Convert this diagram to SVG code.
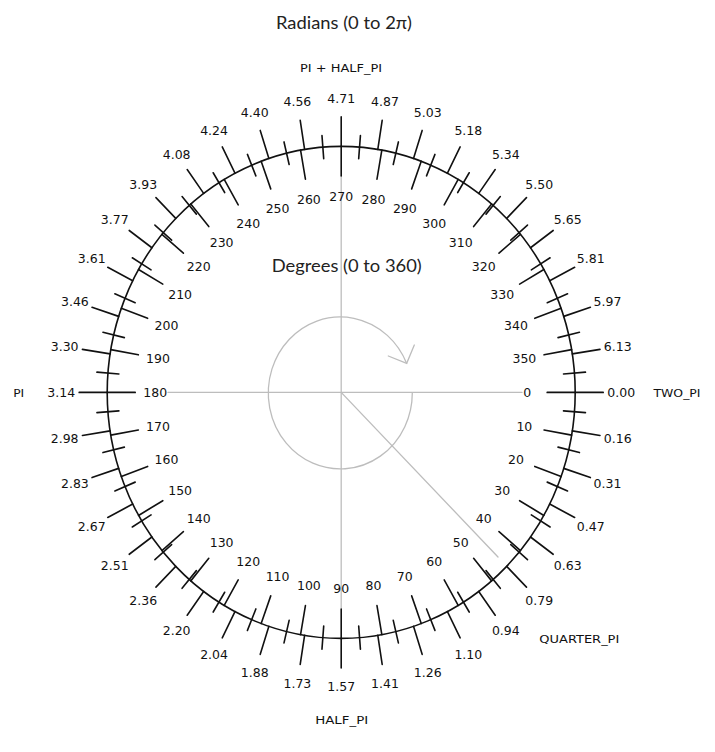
<svg xmlns="http://www.w3.org/2000/svg" xmlns:xlink="http://www.w3.org/1999/xlink" width="715" height="752" viewBox="0 0 715 752">
<style>
.t{font-family:"DejaVu Sans","Liberation Sans",sans-serif;font-size:12.5px;fill:#111;text-anchor:middle;dominant-baseline:central}
.c{font-family:"DejaVu Sans","Liberation Sans",sans-serif;font-size:11px;fill:#111;text-anchor:middle}
.h{font-family:Lato,"Open Sans",sans-serif;fill:#222;text-anchor:middle}
.k{stroke:#111;stroke-width:1.6;fill:none;stroke-linecap:round;vector-effect:non-scaling-stroke}
.g{stroke:#bdbdbd;stroke-width:1.3;fill:none;stroke-linecap:round}
</style>
<defs>
<line id="ro" x1="234" y1="0" x2="262" y2="0"/>
<line id="ri" x1="206" y1="0" x2="234" y2="0"/>
<line id="sh" x1="223" y1="0" x2="245" y2="0"/>
</defs>
<rect width="715" height="752" fill="#fff"/>

<g id="guides" class="g">
<line x1="168" y1="392.4" x2="522" y2="392.4"/>
<line x1="341.2" y1="176" x2="341.2" y2="608"/>
<line x1="341.2" y1="392.4" x2="498" y2="557"/>
<path d="M 412.3 393 A 72 76 0 1 1 406.6 363.3"/>
<polyline points="388.3,356 406.7,363.3 414.3,345"/>
</g>

<g id="dial" transform="translate(341.2 392.4) scale(1 1.0513)">
<circle id="rim" class="k" r="234"/>
<g id="radian-ticks" class="k">
<use xlink:href="#ro" transform="rotate(0)"/><use xlink:href="#ro" transform="rotate(9)"/><use xlink:href="#ro" transform="rotate(18)"/><use xlink:href="#ro" transform="rotate(27)"/><use xlink:href="#ro" transform="rotate(36)"/><use xlink:href="#ro" transform="rotate(45)"/><use xlink:href="#ro" transform="rotate(54)"/><use xlink:href="#ro" transform="rotate(63)"/><use xlink:href="#ro" transform="rotate(72)"/><use xlink:href="#ro" transform="rotate(81)"/>
<use xlink:href="#ro" transform="rotate(90)"/><use xlink:href="#ro" transform="rotate(99)"/><use xlink:href="#ro" transform="rotate(108)"/><use xlink:href="#ro" transform="rotate(117)"/><use xlink:href="#ro" transform="rotate(126)"/><use xlink:href="#ro" transform="rotate(135)"/><use xlink:href="#ro" transform="rotate(144)"/><use xlink:href="#ro" transform="rotate(153)"/><use xlink:href="#ro" transform="rotate(162)"/><use xlink:href="#ro" transform="rotate(171)"/>
<use xlink:href="#ro" transform="rotate(180)"/><use xlink:href="#ro" transform="rotate(189)"/><use xlink:href="#ro" transform="rotate(198)"/><use xlink:href="#ro" transform="rotate(207)"/><use xlink:href="#ro" transform="rotate(216)"/><use xlink:href="#ro" transform="rotate(225)"/><use xlink:href="#ro" transform="rotate(234)"/><use xlink:href="#ro" transform="rotate(243)"/><use xlink:href="#ro" transform="rotate(252)"/><use xlink:href="#ro" transform="rotate(261)"/>
<use xlink:href="#ro" transform="rotate(270)"/><use xlink:href="#ro" transform="rotate(279)"/><use xlink:href="#ro" transform="rotate(288)"/><use xlink:href="#ro" transform="rotate(297)"/><use xlink:href="#ro" transform="rotate(306)"/><use xlink:href="#ro" transform="rotate(315)"/><use xlink:href="#ro" transform="rotate(324)"/><use xlink:href="#ro" transform="rotate(333)"/><use xlink:href="#ro" transform="rotate(342)"/><use xlink:href="#ro" transform="rotate(351)"/>
</g>
<g id="half-ticks" class="k">
<use xlink:href="#sh" transform="rotate(4.5)"/><use xlink:href="#sh" transform="rotate(13.5)"/><use xlink:href="#sh" transform="rotate(22.5)"/><use xlink:href="#sh" transform="rotate(31.5)"/><use xlink:href="#sh" transform="rotate(40.5)"/><use xlink:href="#sh" transform="rotate(49.5)"/><use xlink:href="#sh" transform="rotate(58.5)"/><use xlink:href="#sh" transform="rotate(67.5)"/><use xlink:href="#sh" transform="rotate(76.5)"/><use xlink:href="#sh" transform="rotate(85.5)"/>
<use xlink:href="#sh" transform="rotate(94.5)"/><use xlink:href="#sh" transform="rotate(103.5)"/><use xlink:href="#sh" transform="rotate(112.5)"/><use xlink:href="#sh" transform="rotate(121.5)"/><use xlink:href="#sh" transform="rotate(130.5)"/><use xlink:href="#sh" transform="rotate(139.5)"/><use xlink:href="#sh" transform="rotate(148.5)"/><use xlink:href="#sh" transform="rotate(157.5)"/><use xlink:href="#sh" transform="rotate(166.5)"/><use xlink:href="#sh" transform="rotate(175.5)"/>
<use xlink:href="#sh" transform="rotate(184.5)"/><use xlink:href="#sh" transform="rotate(193.5)"/><use xlink:href="#sh" transform="rotate(202.5)"/><use xlink:href="#sh" transform="rotate(211.5)"/><use xlink:href="#sh" transform="rotate(220.5)"/><use xlink:href="#sh" transform="rotate(229.5)"/><use xlink:href="#sh" transform="rotate(238.5)"/><use xlink:href="#sh" transform="rotate(247.5)"/><use xlink:href="#sh" transform="rotate(256.5)"/><use xlink:href="#sh" transform="rotate(265.5)"/>
<use xlink:href="#sh" transform="rotate(274.5)"/><use xlink:href="#sh" transform="rotate(283.5)"/><use xlink:href="#sh" transform="rotate(292.5)"/><use xlink:href="#sh" transform="rotate(301.5)"/><use xlink:href="#sh" transform="rotate(310.5)"/><use xlink:href="#sh" transform="rotate(319.5)"/><use xlink:href="#sh" transform="rotate(328.5)"/><use xlink:href="#sh" transform="rotate(337.5)"/><use xlink:href="#sh" transform="rotate(346.5)"/><use xlink:href="#sh" transform="rotate(355.5)"/>
</g>
<g id="degree-ticks" class="k">
<use xlink:href="#ri" transform="rotate(0)"/><use xlink:href="#ri" transform="rotate(10)"/><use xlink:href="#ri" transform="rotate(20)"/><use xlink:href="#ri" transform="rotate(30)"/><use xlink:href="#ri" transform="rotate(40)"/><use xlink:href="#ri" transform="rotate(50)"/><use xlink:href="#ri" transform="rotate(60)"/><use xlink:href="#ri" transform="rotate(70)"/><use xlink:href="#ri" transform="rotate(80)"/>
<use xlink:href="#ri" transform="rotate(90)"/><use xlink:href="#ri" transform="rotate(100)"/><use xlink:href="#ri" transform="rotate(110)"/><use xlink:href="#ri" transform="rotate(120)"/><use xlink:href="#ri" transform="rotate(130)"/><use xlink:href="#ri" transform="rotate(140)"/><use xlink:href="#ri" transform="rotate(150)"/><use xlink:href="#ri" transform="rotate(160)"/><use xlink:href="#ri" transform="rotate(170)"/>
<use xlink:href="#ri" transform="rotate(180)"/><use xlink:href="#ri" transform="rotate(190)"/><use xlink:href="#ri" transform="rotate(200)"/><use xlink:href="#ri" transform="rotate(210)"/><use xlink:href="#ri" transform="rotate(220)"/><use xlink:href="#ri" transform="rotate(230)"/><use xlink:href="#ri" transform="rotate(240)"/><use xlink:href="#ri" transform="rotate(250)"/><use xlink:href="#ri" transform="rotate(260)"/>
<use xlink:href="#ri" transform="rotate(270)"/><use xlink:href="#ri" transform="rotate(280)"/><use xlink:href="#ri" transform="rotate(290)"/><use xlink:href="#ri" transform="rotate(300)"/><use xlink:href="#ri" transform="rotate(310)"/><use xlink:href="#ri" transform="rotate(320)"/><use xlink:href="#ri" transform="rotate(330)"/><use xlink:href="#ri" transform="rotate(340)"/><use xlink:href="#ri" transform="rotate(350)"/>
</g>
<g id="radian-labels" class="t">
<text transform="rotate(0) translate(280) rotate(0)">0.00</text>
<text transform="rotate(9) translate(280) rotate(-9)">0.16</text>
<text transform="rotate(18) translate(280) rotate(-18)">0.31</text>
<text transform="rotate(27) translate(280) rotate(-27)">0.47</text>
<text transform="rotate(36) translate(280) rotate(-36)">0.63</text>
<text transform="rotate(45) translate(280) rotate(-45)">0.79</text>
<text transform="rotate(54) translate(280) rotate(-54)">0.94</text>
<text transform="rotate(63) translate(280) rotate(-63)">1.10</text>
<text transform="rotate(72) translate(280) rotate(-72)">1.26</text>
<text transform="rotate(81) translate(280) rotate(-81)">1.41</text>
<text transform="rotate(90) translate(280) rotate(-90)">1.57</text>
<text transform="rotate(99) translate(280) rotate(-99)">1.73</text>
<text transform="rotate(108) translate(280) rotate(-108)">1.88</text>
<text transform="rotate(117) translate(280) rotate(-117)">2.04</text>
<text transform="rotate(126) translate(280) rotate(-126)">2.20</text>
<text transform="rotate(135) translate(280) rotate(-135)">2.36</text>
<text transform="rotate(144) translate(280) rotate(-144)">2.51</text>
<text transform="rotate(153) translate(280) rotate(-153)">2.67</text>
<text transform="rotate(162) translate(280) rotate(-162)">2.83</text>
<text transform="rotate(171) translate(280) rotate(-171)">2.98</text>
<text transform="rotate(180) translate(280) rotate(-180)">3.14</text>
<text transform="rotate(189) translate(280) rotate(-189)">3.30</text>
<text transform="rotate(198) translate(280) rotate(-198)">3.46</text>
<text transform="rotate(207) translate(280) rotate(-207)">3.61</text>
<text transform="rotate(216) translate(280) rotate(-216)">3.77</text>
<text transform="rotate(225) translate(280) rotate(-225)">3.93</text>
<text transform="rotate(234) translate(280) rotate(-234)">4.08</text>
<text transform="rotate(243) translate(280) rotate(-243)">4.24</text>
<text transform="rotate(252) translate(280) rotate(-252)">4.40</text>
<text transform="rotate(261) translate(280) rotate(-261)">4.56</text>
<text transform="rotate(270) translate(280) rotate(-270)">4.71</text>
<text transform="rotate(279) translate(280) rotate(-279)">4.87</text>
<text transform="rotate(288) translate(280) rotate(-288)">5.03</text>
<text transform="rotate(297) translate(280) rotate(-297)">5.18</text>
<text transform="rotate(306) translate(280) rotate(-306)">5.34</text>
<text transform="rotate(315) translate(280) rotate(-315)">5.50</text>
<text transform="rotate(324) translate(280) rotate(-324)">5.65</text>
<text transform="rotate(333) translate(280) rotate(-333)">5.81</text>
<text transform="rotate(342) translate(280) rotate(-342)">5.97</text>
<text transform="rotate(351) translate(280) rotate(-351)">6.13</text>
</g>
<g id="degree-labels" class="t">
<text transform="rotate(0) translate(186) rotate(0)">0</text>
<text transform="rotate(10) translate(186) rotate(-10)">10</text>
<text transform="rotate(20) translate(186) rotate(-20)">20</text>
<text transform="rotate(30) translate(186) rotate(-30)">30</text>
<text transform="rotate(40) translate(186) rotate(-40)">40</text>
<text transform="rotate(50) translate(186) rotate(-50)">50</text>
<text transform="rotate(60) translate(186) rotate(-60)">60</text>
<text transform="rotate(70) translate(186) rotate(-70)">70</text>
<text transform="rotate(80) translate(186) rotate(-80)">80</text>
<text transform="rotate(90) translate(186) rotate(-90)">90</text>
<text transform="rotate(100) translate(186) rotate(-100)">100</text>
<text transform="rotate(110) translate(186) rotate(-110)">110</text>
<text transform="rotate(120) translate(186) rotate(-120)">120</text>
<text transform="rotate(130) translate(186) rotate(-130)">130</text>
<text transform="rotate(140) translate(186) rotate(-140)">140</text>
<text transform="rotate(150) translate(186) rotate(-150)">150</text>
<text transform="rotate(160) translate(186) rotate(-160)">160</text>
<text transform="rotate(170) translate(186) rotate(-170)">170</text>
<text transform="rotate(180) translate(186) rotate(-180)">180</text>
<text transform="rotate(190) translate(186) rotate(-190)">190</text>
<text transform="rotate(200) translate(186) rotate(-200)">200</text>
<text transform="rotate(210) translate(186) rotate(-210)">210</text>
<text transform="rotate(220) translate(186) rotate(-220)">220</text>
<text transform="rotate(230) translate(186) rotate(-230)">230</text>
<text transform="rotate(240) translate(186) rotate(-240)">240</text>
<text transform="rotate(250) translate(186) rotate(-250)">250</text>
<text transform="rotate(260) translate(186) rotate(-260)">260</text>
<text transform="rotate(270) translate(186) rotate(-270)">270</text>
<text transform="rotate(280) translate(186) rotate(-280)">280</text>
<text transform="rotate(290) translate(186) rotate(-290)">290</text>
<text transform="rotate(300) translate(186) rotate(-300)">300</text>
<text transform="rotate(310) translate(186) rotate(-310)">310</text>
<text transform="rotate(320) translate(186) rotate(-320)">320</text>
<text transform="rotate(330) translate(186) rotate(-330)">330</text>
<text transform="rotate(340) translate(186) rotate(-340)">340</text>
<text transform="rotate(350) translate(186) rotate(-350)">350</text>
</g>
</g>

<g id="titles">
<text class="h" x="344" y="29" font-size="18" textLength="136" lengthAdjust="spacingAndGlyphs">Radians (0 to 2π)</text>
<text class="h" x="346.7" y="272" font-size="17" textLength="150" lengthAdjust="spacingAndGlyphs">Degrees (0 to 360)</text>
</g>
<g id="constants">
<text class="c" x="341" y="71.5" textLength="82" lengthAdjust="spacingAndGlyphs">PI + HALF_PI</text>
<text class="c" x="18.7" y="396.5" textLength="11" lengthAdjust="spacingAndGlyphs">PI</text>
<text class="c" x="677" y="397" textLength="47" lengthAdjust="spacingAndGlyphs">TWO_PI</text>
<text class="c" x="579.3" y="643" textLength="80" lengthAdjust="spacingAndGlyphs">QUARTER_PI</text>
<text class="c" x="341.7" y="724" textLength="53" lengthAdjust="spacingAndGlyphs">HALF_PI</text>
</g>
</svg>
